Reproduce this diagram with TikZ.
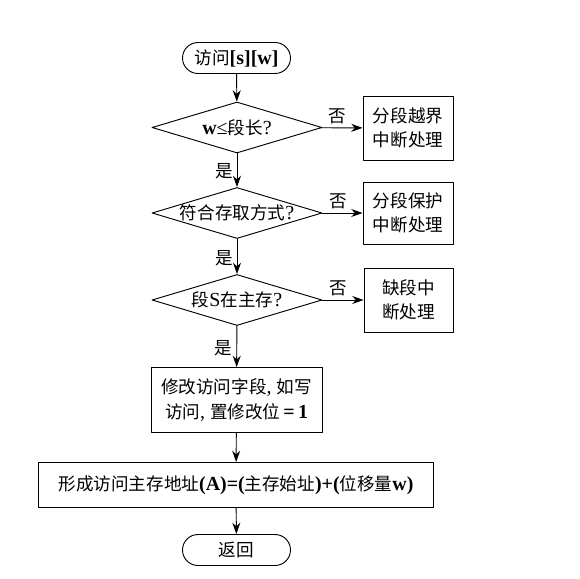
\documentclass[tikz,border=0pt]{standalone}
\usepackage{fontspec}
\setmainfont{Liberation Serif}
\newfontfamily\cjk{Noto Sans CJK SC}
\usetikzlibrary{shapes.geometric,shapes.misc,arrows.meta}
\newcommand{\lat}[1]{{\rmfamily\bfseries\fontsize{17}{21}\selectfont #1}}
\newcommand{\romn}[1]{{\rmfamily\fontsize{17}{21}\selectfont #1}}
\newcommand{\dtext}[1]{\makebox[0pt]{#1}}
\tikzset{
  term/.style={draw, rounded rectangle, minimum width=3.24cm, minimum height=0.93cm, inner sep=0pt},
  decide/.style={draw, diamond, minimum width=5.1cm, minimum height=1.53cm, inner sep=0pt},
  proc/.style={draw, rectangle, align=center, inner sep=0pt},
}
\begin{document}
\begin{tikzpicture}[line cap=round,line join=round,x=0.03cm,y=-0.03cm,>={Stealth[length=3.4mm,width=2.4mm]},line width=0.8pt,
    font=\cjk\fontsize{15}{21}\selectfont]
  \useasboundingbox (0,0) rectangle (580,578);
  % main column
  \node[term] (start) at (236.5,58) {访问\lat{[s][w]}};
  \node[decide] (d1) at (237,127.5) {\dtext{\lat{w}\romn{≤}段长\romn{?}}};
  \node[decide] (d2) at (237,213) {\dtext{符合存取方式\romn{?}}};
  \node[decide] (d3) at (237,300) {\dtext{段\romn{S}在主存\romn{?}}};
  \node[proc, minimum width=5.13cm, minimum height=1.95cm] (mod) at (236.5,400) {修改访问字段\romn{, }如写\\访问\romn{, }置修改位\,\lat{=\,1}};
  \node[proc, minimum width=11.85cm, minimum height=1.35cm] (addr) at (236,485) {形成访问主存地址\lat{(A)=(}主存始址\lat{)+(}位移量\lat{w)}};
  \node[term] (ret) at (236.5,550) {返回};
  % interrupts
  \node[proc, minimum width=2.7cm, minimum height=1.92cm] (b1) at (408,128) {分段越界\\中断处理};
  \node[proc, minimum width=2.7cm, minimum height=1.86cm] (b2) at (408,213) {分段保护\\中断处理};
  \node[proc, minimum width=2.67cm, minimum height=1.92cm] (b3) at (408.5,300) {缺段中\\断处理};
  % arrows
  \draw[->] (start) -- (d1);
  \draw[->] (d1) -- node[pos=0.39,above] {否} (b1);
  \draw[->] (d1) -- node[pos=0.54,left] {是} (d2);
  \draw[->] (d2) -- node[pos=0.39,above] {否} (b2);
  \draw[->] (d2) -- node[pos=0.54,left] {是} (d3);
  \draw[->] (d3) -- node[pos=0.39,above] {否} (b3);
  \draw[->] (d3) -- node[pos=0.54,left] {是} (mod);
  \draw[->] (mod) -- (addr);
  \draw[->] (addr) -- (ret);
\end{tikzpicture}
\end{document}
